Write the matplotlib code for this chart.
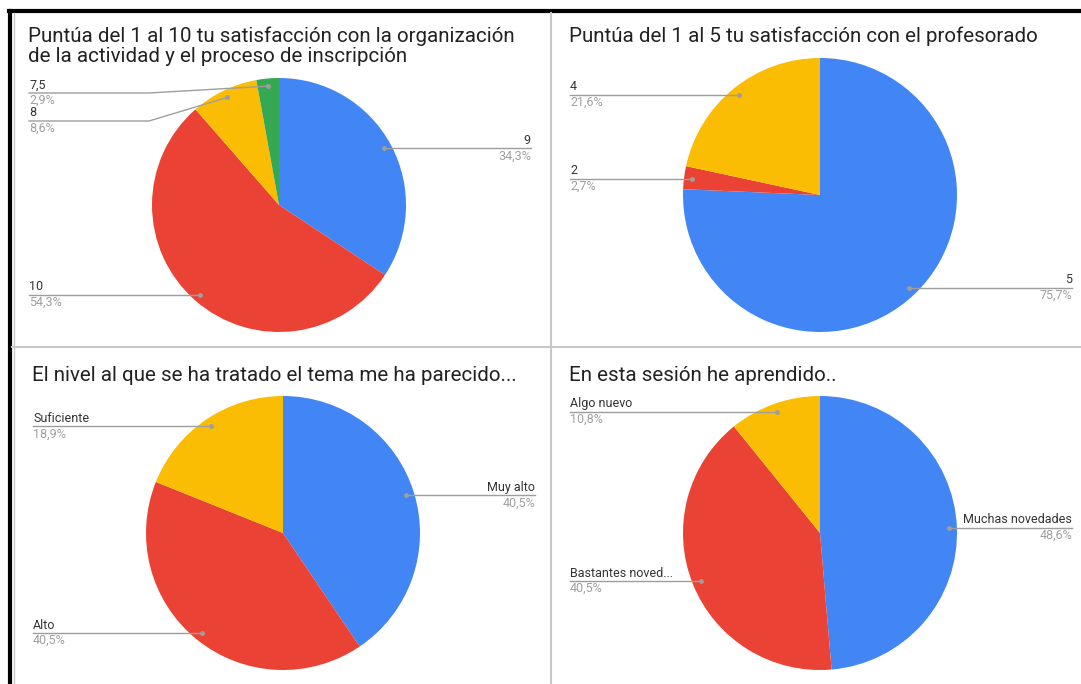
import matplotlib

matplotlib.use("Agg")
import matplotlib.pyplot as plt
import numpy as np

plt.rcParams["font.family"] = ["Roboto", "DejaVu Sans"]

# survey answers (counts of responses)
title_1 = "Puntúa del 1 al 10 tu satisfacción con la organización\nde la actividad y el proceso de inscripción"
labels_1 = ["9", "10", "8", "7,5"]
counts_1 = [12, 19, 3, 1]

title_2 = "Puntúa del 1 al 5 tu satisfacción con el profesorado"
labels_2 = ["5", "2", "4"]
counts_2 = [28, 1, 8]

title_3 = "El nivel al que se ha tratado el tema me ha parecido..."
labels_3 = ["Muy alto", "Alto", "Suficiente"]
counts_3 = [15, 15, 7]

title_4 = "En esta sesión he aprendido.."
labels_4 = ["Muchas novedades", "Bastantes noved...", "Algo nuevo"]
counts_4 = [18, 15, 4]

COLORS = ["#4285f4", "#ea4335", "#fbbc04", "#34a853"]
W, H = 1081, 684


def py(y):
    # pixel row (from top) -> data y
    return H - y


def draw_panel(ax, title, labels, counts, cx, cy, r, title_y, top_y):
    ax.text(cx - 251, py(title_y), title, fontsize=14.8, color="#222222",
            ha="left", va="top", linespacing=1.12)
    ax.pie(counts, colors=COLORS[:len(counts)], center=(cx, py(cy)), radius=r,
           startangle=90, counterclock=False, frame=True,
           wedgeprops=dict(linewidth=0))

    total = sum(counts)
    fracs = np.array(counts) / total
    mids = np.cumsum(fracs) - fracs / 2
    ang = np.deg2rad(90 - mids * 360)
    dots_x = cx + 0.94 * r * np.cos(ang)
    dots_y = cy - 0.94 * r * np.sin(ang)

    for side in ("left", "right"):
        idx = [i for i in range(len(counts)) if (dots_x[i] < cx) == (side == "left")]
        idx.sort(key=lambda i: dots_y[i])
        prev = None
        for i in idx:
            ly = max(dots_y[i], top_y)
            if prev is not None:
                ly = max(ly, prev + 28)
            prev = ly
            pct = f"{fracs[i] * 100:.1f}%".replace(".", ",")
            if side == "left":
                tx, ha = cx - 250, "left"
                xs = [tx, tx + 120, dots_x[i]]
            else:
                tx, ha = cx + 252, "right"
                xs = [tx, tx - 120, dots_x[i]]
            ys = [ly, ly, dots_y[i]]
            ax.plot(xs, [py(v) for v in ys], color="#9e9e9e", lw=1, zorder=3)
            ax.plot(dots_x[i], py(dots_y[i]), "o", ms=2.5, color="#9e9e9e", zorder=4)
            ax.text(tx, py(ly - 1.5), labels[i], fontsize=9, color="#333333",
                    ha=ha, va="bottom")
            ax.text(tx, py(ly + 1), pct, fontsize=9, color="#a0a0a0",
                    ha=ha, va="top")


fig = plt.figure(figsize=(W / 100, H / 100), dpi=100)
ax = fig.add_axes([0, 0, 1, 1])

draw_panel(ax, title_1, labels_1, counts_1, 279, 205, 127, 26, 93)
draw_panel(ax, title_2, labels_2, counts_2, 820, 195, 137, 26, 80)
draw_panel(ax, title_3, labels_3, counts_3, 283, 533, 137, 366, 415)
draw_panel(ax, title_4, labels_4, counts_4, 820, 533, 137, 366, 405)

# screenshot frame and grid lines
ax.plot([10, 10], [py(11), py(684)], color="black", lw=3)
ax.plot([9, W], [py(11), py(11)], color="black", lw=3)
ax.plot([14, 14], [py(13), py(684)], color="#c8c8c8", lw=1)
ax.plot([551, 551], [py(13), py(684)], color="#c8c8c8", lw=1.5)
ax.plot([12, W], [py(347), py(347)], color="#c8c8c8", lw=1.5)

ax.set_xlim(0, W)
ax.set_ylim(0, H)
ax.set_aspect("auto")
ax.axis("off")

fig.savefig("out.png", dpi=100)
plt.close(fig)
